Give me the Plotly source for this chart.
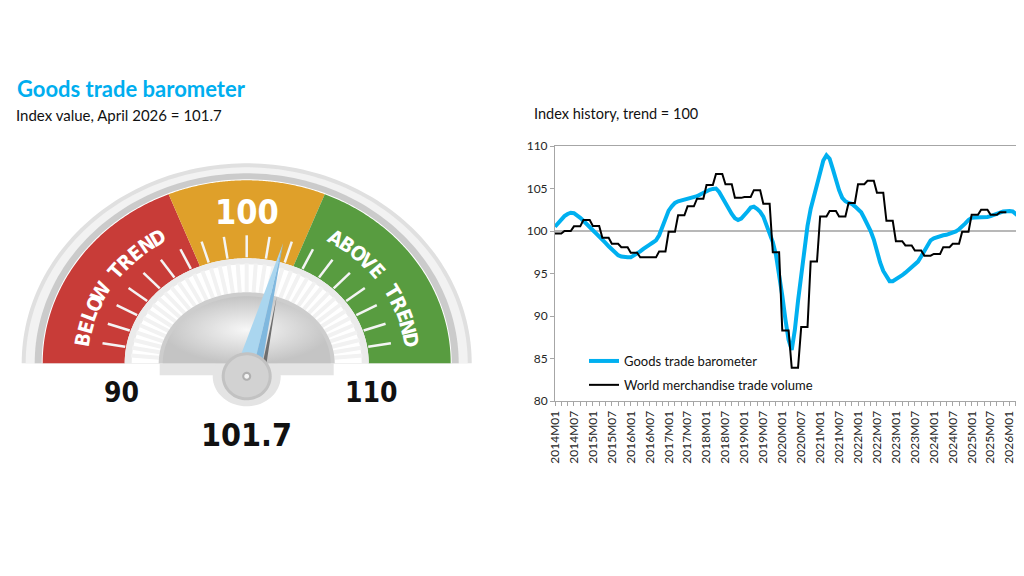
import numpy as np
import plotly.graph_objects as go

# ---- data -------------------------------------------------------------
years = list(range(2014, 2027))
months = [f"{y}M{m:02d}" for y in years for m in range(1, 13)][:148]   # 2014M01 .. 2026M04

barometer = [
    100.5, 100.95, 101.4, 101.75, 102.0, 102.15, 102.1, 101.85, 101.55, 101.2, 100.85, 100.45,   # 2014
    100.1, 99.8, 99.45, 99.1, 98.6, 98.2, 97.8, 97.4, 97.15, 97.0, 96.9, 96.9,                   # 2015
    96.9, 97.1, 97.3, 97.6, 97.9, 98.1, 98.4, 98.65, 98.9, 99.5, 100.4, 101.5,                   # 2016
    102.4, 102.9, 103.3, 103.5, 103.6, 103.65, 103.7, 103.8, 103.9, 104.1, 104.3, 104.5,         # 2017
    104.7, 104.85, 104.95, 105.0, 104.6, 103.9, 103.3, 102.6, 102.0, 101.5, 101.3, 101.45,       # 2018
    101.8, 102.3, 102.75, 102.85, 102.6, 102.25, 101.7, 100.8, 99.9, 98.7, 97.2, 95.0,           # 2019
    92.4, 89.6, 87.2, 86.0, 88.4, 91.8, 95.0, 97.9, 100.6, 102.6, 104.0, 105.6,                  # 2020
    107.2, 108.3, 108.9, 108.5, 107.3, 105.9, 104.8, 103.9, 103.5, 103.3, 103.2, 102.9,          # 2021
    102.6, 102.2, 101.5, 100.8, 100.0, 99.0, 97.6, 96.3, 95.3, 94.6, 94.1, 94.1,                 # 2022
    94.3, 94.5, 94.8, 95.1, 95.4, 95.7, 96.0, 96.4, 97.0, 97.6, 98.3, 98.9,                      # 2023
    99.15, 99.3, 99.45, 99.5, 99.55, 99.65, 99.8, 99.95, 100.2, 100.5, 100.9, 101.3,             # 2024
    101.55, 101.6, 101.6, 101.6, 101.6, 101.65, 101.75, 101.85, 101.95, 102.15, 102.3, 102.35,   # 2025
    102.35, 102.3, 102.0, 101.7,                                                                 # 2026
]

# quarterly world merchandise trade volume, 2014Q1 .. 2025Q4
trade_volume_q = [
    99.7, 100.0, 100.55, 101.3,
    100.6, 99.2, 98.5, 98.1,
    97.45, 96.9, 96.9, 97.6,
    99.9, 101.85, 102.9, 103.8,
    105.4, 106.7, 105.5, 103.9,
    104.0, 104.8, 103.2, 97.5,
    88.3, 83.9, 88.7, 96.4,
    101.7, 102.35, 101.7, 103.3,
    105.5, 105.9, 104.5, 101.2,
    98.8, 98.3, 97.7, 97.1,
    97.3, 98.1, 98.5, 99.9,
    101.9, 102.5, 101.9, 102.2,
]
trade_volume = [v for v in trade_volume_q for _ in range(3)]   # each quarter shown over its 3 months

gauge_min, gauge_max = 90, 110
gauge_value = 101.7
trend = 100
band_edges = [90, 97.5, 102.5, 110]
band_colors = ["#C83C38", "#DFA02A", "#589C40"]
gauge_ticks = list(range(91, 110))
below_label = "BELOW TREND"
above_label = "ABOVE TREND"

blue = "#00B0F0"
narrow = "Liberation Sans Narrow, DejaVu Sans Condensed, Arial Narrow, sans-serif"
body = "Lato, Open Sans, sans-serif"

# the page puts the figure 8px in from the window corner
W, H, OFF = 1016, 568, 8


def fx(x):
    return (x - OFF) / W


def fy(y):
    return 1 - (y - OFF) / H


fig = go.Figure()

# gauge centre in window pixels; x2/y2 run in pixels with origin there
gcx, gcy = 246.7, 363.3
cx, cy = gcx - OFF, gcy - OFF


# ---- gauge helpers -----------------------------------------------------------
def ang(v):
    return np.pi * (1 - (v - gauge_min) / (gauge_max - gauge_min))


def ring(r_in, r_out, v0=gauge_min, v1=gauge_max, n=120):
    t = np.linspace(ang(v0), ang(v1), n)
    xs = np.concatenate([r_out[0] * np.cos(t), r_in[0] * np.cos(t[::-1])])
    ys = np.concatenate([r_out[1] * np.sin(t), r_in[1] * np.sin(t[::-1])])
    return np.append(xs, xs[0]), np.append(ys, ys[0])


def ellipse(x0, y0, rx, ry, n=80):
    t = np.linspace(0, 2 * np.pi, n)
    return x0 + rx * np.cos(t), y0 + ry * np.sin(t)


def poly(xs, ys, color, **kw):
    fig.add_trace(go.Scatter(x=xs, y=ys, fill="toself", fillcolor=color, mode="none",
                             hoverinfo="skip", showlegend=False, xaxis="x2", yaxis="y2", **kw))


def seg(xs, ys, color, width):
    fig.add_trace(go.Scatter(x=xs, y=ys, mode="lines", line=dict(color=color, width=width),
                             hoverinfo="skip", showlegend=False, xaxis="x2", yaxis="y2"))


def spokes(values, r0, r1, color, width):
    xs, ys = [], []
    for v in values:
        a = ang(v)
        xs += [r0[0] * np.cos(a), r1[0] * np.cos(a), None]
        ys += [r0[1] * np.sin(a), r1[1] * np.sin(a), None]
    seg(xs, ys, color, width)


# rim
poly(*ring((0, 0), (225, 200)), "#E0E0E0")
poly(*ring((0, 0), (221, 196)), "#F2F2F2")
poly(*ring((0, 0), (212, 190)), "#CBCBCB")
poly(*ring((0, 0), (205, 184)), "#FFFFFF")
# coloured bands
for (v0, v1), col in zip(zip(band_edges[:-1], band_edges[1:]), band_colors):
    poly(*ring((122, 105), (204, 183), v0, v1), col)
poly(*ring((115, 99), (122, 105)), "#EBEBEB")
spokes(np.arange(gauge_min + 0.5, gauge_max, 0.5), (88, 71), (116, 100), "#F2F2F2", 4)
spokes(gauge_ticks, (123, 106), (146, 128), "#F4F4F4", 2.5)


# letters following the arc
def arc_text(text, v0, v1, r=(166, 149), size=20):
    n = len(text)
    for i, ch in enumerate(text):
        if ch == " ":
            continue
        a = ang(v0 + i * (v1 - v0) / (n - 1))
        rot = np.degrees(np.arctan2(r[1] * np.cos(a), r[0] * np.sin(a)))
        fig.add_annotation(x=r[0] * np.cos(a), y=r[1] * np.sin(a), xref="x2", yref="y2",
                           text=f"<b>{ch}</b>", showarrow=False, textangle=rot,
                           font=dict(family=narrow, size=size, color="white"))


arc_text(below_label, 91.0, 96.4)
arc_text(above_label, 103.6, 109.0)
fig.add_annotation(x=0, y=151, xref="x2", yref="y2", text=f"<b>{trend}</b>", showarrow=False,
                   font=dict(family=narrow, size=34, color="white"))

# pedestal and dome
poly([-87, 87, 87, -87, -87], [0, 0, -12, -12, 0], "#E4E4E4")
poly(*ellipse(0, -13, 34, 30), "#E4E4E4")
poly(*ring((0, 0), (88, 71)), "#CDCDCD")
poly(*ring((0, 0), (84, 67)), "#DADADA",
     fillgradient=dict(type="radial", colorscale=[[0, "#F7F7F7"], [1, "#C4C4C4"]]))

# needle
pivot = np.array([0.0, -13.0])
a = ang(gauge_value)
u = np.array([np.cos(a), np.sin(a)])
nrm = np.array([-np.sin(a), np.cos(a)])
hw = 13
tip = pivot + 138 * u
left = pivot + hw * nrm
right = pivot - hw * nrm
split = pivot - 0.35 * hw * nrm
sh0 = right + 2 * u - 1.5 * nrm
sh1 = pivot + 85 * u - 0.45 * hw * nrm - 2 * nrm
poly([right[0], sh0[0] - 3 * nrm[0], sh1[0], right[0]], [right[1], sh0[1] - 3 * nrm[1], sh1[1], right[1]], "#6E6E6E")
poly([left[0], tip[0], split[0], left[0]], [left[1], tip[1], split[1], left[1]], "#AAD6EF")
poly([split[0], tip[0], right[0], split[0]], [split[1], tip[1], right[1], split[1]], "#80B8DE")

# hub
poly(*ellipse(0, -13, 25, 24), "#C2C2C2")
poly(*ellipse(0, -13, 22, 21), "#D2D2D2")
poly(*ellipse(0, -13, 4.5, 4.5), "#B0B0B0")
poly(*ellipse(0, -13, 2.4, 2.4), "#F4F4F4")

# scale numbers
fig.add_annotation(x=125 * np.cos(ang(gauge_min)), y=-29, xref="x2", yref="y2", text=f"<b>{gauge_min}</b>",
                   showarrow=False, font=dict(family=narrow, size=28, color="#111111"))
fig.add_annotation(x=125 * np.cos(ang(gauge_max)), y=-29, xref="x2", yref="y2", text=f"<b>{gauge_max}</b>",
                   showarrow=False, font=dict(family=narrow, size=28, color="#111111"))
fig.add_annotation(x=0, y=-72, xref="x2", yref="y2", text=f"<b>{gauge_value}</b>",
                   showarrow=False, font=dict(family=narrow, size=32, color="#111111"))

# ---- history chart ---------------------------------------------------------
fig.add_trace(go.Scatter(x=months, y=barometer, name="Goods trade barometer", mode="lines",
                         line=dict(color=blue, width=4), legendgroup="a"))
fig.add_trace(go.Scatter(x=months[:len(trade_volume)], y=trade_volume, name="World merchandise trade volume",
                         mode="lines", line=dict(color="black", width=2), legendgroup="b"))
fig.add_hline(y=trend, line=dict(color="#A0A0A0", width=1.5), layer="below")

tickvals = months[::2]
ticktext = [m if m.endswith(("M01", "M07")) else "" for m in tickvals]

fig.add_annotation(x=fx(15), y=fy(89), xref="paper", yref="paper", xanchor="left", yanchor="middle",
                   text="<b>Goods trade barometer</b>", showarrow=False,
                   font=dict(family=body, size=22, color="#00AEEF"))
fig.add_annotation(x=fx(14), y=fy(115), xref="paper", yref="paper", xanchor="left", yanchor="middle",
                   text="Index value, April 2026 = 101.7", showarrow=False,
                   font=dict(family=body, size=15, color="#111111"))
fig.add_annotation(x=fx(532), y=fy(113), xref="paper", yref="paper", xanchor="left", yanchor="middle",
                   text="Index history, trend = 100", showarrow=False,
                   font=dict(family=body, size=14.5, color="#111111"))

axis_style = dict(ticks="outside", ticklen=4, tickcolor="#A6A6A6", showline=True, linecolor="#A6A6A6",
                  linewidth=1, mirror=True, showgrid=False, automargin=False)

fig.update_layout(
    width=W, height=H, margin=dict(l=0, r=0, t=0, b=0, autoexpand=False),
    paper_bgcolor="white", plot_bgcolor="white",
    font=dict(family=body, size=12, color="#262626"),
    xaxis=dict(domain=[fx(555), fx(1019)], anchor="y", type="category", range=[0, len(months) - 1],
               tickmode="array", tickvals=tickvals, ticktext=ticktext, tickangle=-90, **axis_style),
    yaxis=dict(domain=[fy(401), fy(146)], anchor="x", range=[80, 110], dtick=5, zeroline=False, **axis_style),
    xaxis2=dict(domain=[0, 0.5], anchor="y2", range=[-cx, W * 0.5 - cx], visible=False, automargin=False),
    yaxis2=dict(domain=[0, 1], anchor="x2", range=[-(H - cy), cy], visible=False, automargin=False),
    legend=dict(x=fx(584), y=fy(346), xanchor="left", yanchor="top", bgcolor="rgba(0,0,0,0)",
                font=dict(size=13, color="#111111"), itemwidth=30, traceorder="grouped", tracegroupgap=4),
    showlegend=True,
)

fig.write_html("out.html")
